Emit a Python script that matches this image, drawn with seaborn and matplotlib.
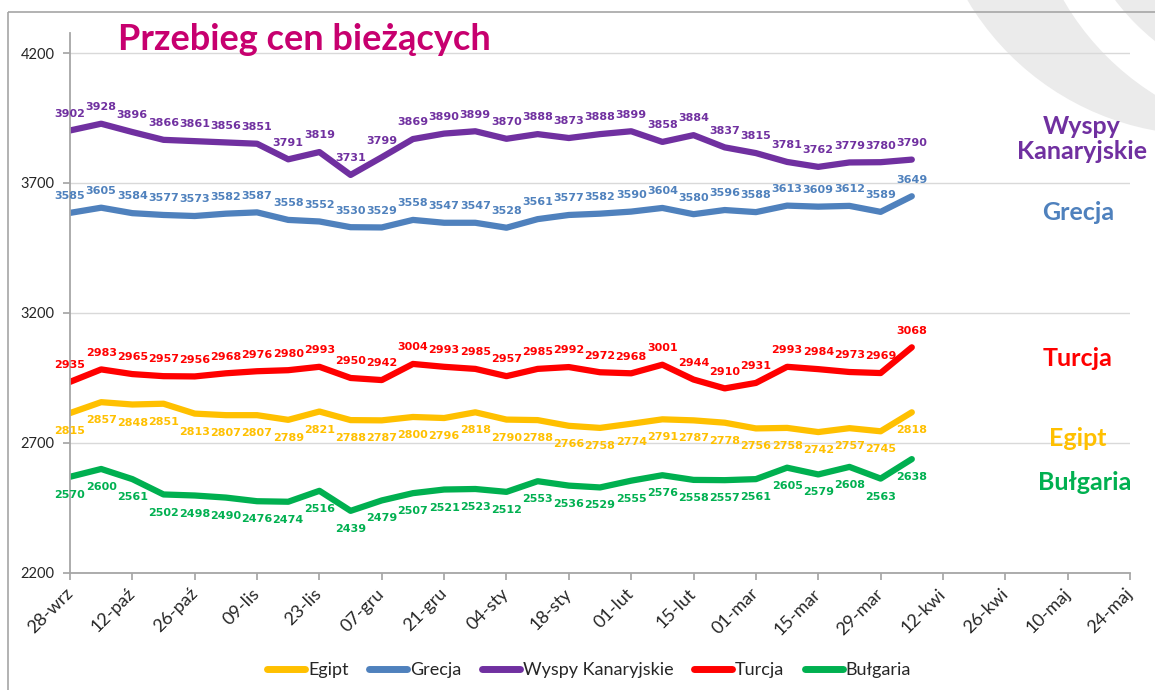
import pandas as pd
import matplotlib.pyplot as plt
import seaborn as sns
from matplotlib.patches import Circle, Rectangle
from matplotlib.lines import Line2D

# dane tygodniowe (od 28-wrz)
start = '2014-09-28'
koniec_osi = '2015-05-24'

egipt = [2815, 2857, 2848, 2851, 2813, 2807, 2807, 2789, 2821, 2788, 2787, 2800, 2796, 2818,
         2790, 2788, 2766, 2758, 2774, 2791, 2787, 2778, 2756, 2758, 2742, 2757, 2745, 2818]
grecja = [3585, 3605, 3584, 3577, 3573, 3582, 3587, 3558, 3552, 3530, 3529, 3558, 3547, 3547,
          3528, 3561, 3577, 3582, 3590, 3604, 3580, 3596, 3588, 3613, 3609, 3612, 3589, 3649]
wyspy = [3902, 3928, 3896, 3866, 3861, 3856, 3851, 3791, 3819, 3731, 3799, 3869, 3890, 3899,
         3870, 3888, 3873, 3888, 3899, 3858, 3884, 3837, 3815, 3781, 3762, 3779, 3780, 3790]
turcja = [2935, 2983, 2965, 2957, 2956, 2968, 2976, 2980, 2993, 2950, 2942, 3004, 2993, 2985,
          2957, 2985, 2992, 2972, 2968, 3001, 2944, 2910, 2931, 2993, 2984, 2973, 2969, 3068]
bulgaria = [2570, 2600, 2561, 2502, 2498, 2490, 2476, 2474, 2516, 2439, 2479, 2507, 2521, 2523,
            2512, 2553, 2536, 2529, 2555, 2576, 2558, 2557, 2561, 2605, 2579, 2608, 2563, 2638]

serie = ['Egipt', 'Grecja', 'Wyspy Kanaryjskie', 'Turcja', 'Bułgaria']
kolory = ['#FFC000', '#4F81BD', '#7030A0', '#FF0000', '#00B050']
etykiety_x = ['28-wrz', '12-paź', '26-paź', '09-lis', '23-lis', '07-gru', '21-gru', '04-sty',
              '18-sty', '01-lut', '15-lut', '01-mar', '15-mar', '29-mar', '12-kwi', '26-kwi',
              '10-maj', '24-maj']
y_ticki = [2200, 2700, 3200, 3700, 4200]

daty = pd.date_range(start, periods=len(egipt), freq='7D')
df = pd.DataFrame({'Data': daty, 'Egipt': egipt, 'Grecja': grecja,
                   'Wyspy Kanaryjskie': wyspy, 'Turcja': turcja, 'Bułgaria': bulgaria})
df_long = df.melt(id_vars='Data', var_name='Kierunek', value_name='Cena')
paleta = dict(zip(serie, kolory))

sns.set_theme(style='white')
plt.rcParams['font.family'] = ['Lato', 'DejaVu Sans']

fig = plt.figure(figsize=(11.55, 6.9), dpi=100)

# tło: ramka i szary znak wodny w prawym górnym rogu
bg = fig.add_axes([0, 0, 1, 1], zorder=0)
bg.set_xlim(0, 1155)
bg.set_ylim(690, 0)
bg.axis('off')
bg.add_patch(Circle((1204, -140), 275, color='#EBEBEB', lw=0))
bg.add_patch(Circle((1299, -136), 272, color='white', lw=0))
bg.add_patch(Circle((1300, -140), 232, color='#EBEBEB', lw=0))
bg.add_patch(Circle((1300, -140), 195, color='white', lw=0))
bg.add_patch(Rectangle((8, 12), 1200, 700, fill=False, ec='#A6A6A6', lw=1.2))

ax = fig.add_axes([0.0606, 0.1696, 0.9178, 0.7826], zorder=1)
ax.patch.set_alpha(0)

sns.lineplot(data=df_long, x='Data', y='Cena', hue='Kierunek', hue_order=serie,
             palette=paleta, linewidth=4.5, legend=False, ax=ax)
for ln in ax.get_lines():
    ln.set_solid_capstyle('round')
    ln.set_solid_joinstyle('round')

# etykiety wartości
nad = {'Wyspy Kanaryjskie': True, 'Grecja': True, 'Turcja': True, 'Egipt': False, 'Bułgaria': False}
for s in serie:
    dy = 12 if nad[s] else -13
    for d, v in zip(df['Data'], df[s]):
        ax.annotate(str(v), (d, v), xytext=(0, dy), textcoords='offset points',
                    ha='center', va='center', fontsize=8, fontweight='bold',
                    color=paleta[s], family='DejaVu Sans')

ax.set_xlim(pd.Timestamp(start), pd.Timestamp(koniec_osi))
ax.set_ylim(2200, 4277)
ax.set_yticks(y_ticki)
ax.set_xticks(pd.date_range(start, koniec_osi, freq='14D'))
ax.set_xticklabels(etykiety_x, rotation=45, ha='right', va='center', rotation_mode='anchor')
ax.tick_params(axis='x', labelsize=13, labelcolor='#262626', bottom=True, length=5,
               color='#A6A6A6', pad=8)
ax.tick_params(axis='y', labelsize=10.5, labelcolor='#262626', left=True, length=5,
               color='#A6A6A6', pad=6)
ax.set_xlabel('')
ax.set_ylabel('')
ax.grid(axis='y', color='#D9D9D9', lw=1)
ax.set_axisbelow(True)
for side in ['top', 'right']:
    ax.spines[side].set_visible(False)
for side in ['left', 'bottom']:
    ax.spines[side].set_color('#A6A6A6')
    ax.spines[side].set_linewidth(1.3)

fig.text(118 / 1155, 1 - 40 / 690, 'Przebieg cen bieżących', fontsize=26,
         fontweight='bold', color='#C7006F', ha='left', va='center')

# podpisy serii po prawej
podpisy = [('Wyspy\nKanaryjskie', 1082, 139), ('Grecja', 1078, 213), ('Turcja', 1078, 358),
           ('Egipt', 1078, 438), ('Bułgaria', 1085, 482)]
for (txt, px, py), kol in zip(podpisy, [kolory[2], kolory[1], kolory[3], kolory[0], kolory[4]]):
    fig.text(px / 1155, 1 - py / 690, txt, fontsize=18, fontweight='bold', color=kol,
             ha='center', va='center', linespacing=1.1)

uchwyty = [Line2D([0], [0], color=k, lw=5, solid_capstyle='round') for k in kolory]
fig.legend(uchwyty, serie, loc='center', bbox_to_anchor=(589 / 1155, 1 - 670 / 690), ncol=5,
           frameon=False, fontsize=13, handlelength=2.1, handletextpad=0.15, columnspacing=1.15)

fig.savefig('out.png', dpi=100)
